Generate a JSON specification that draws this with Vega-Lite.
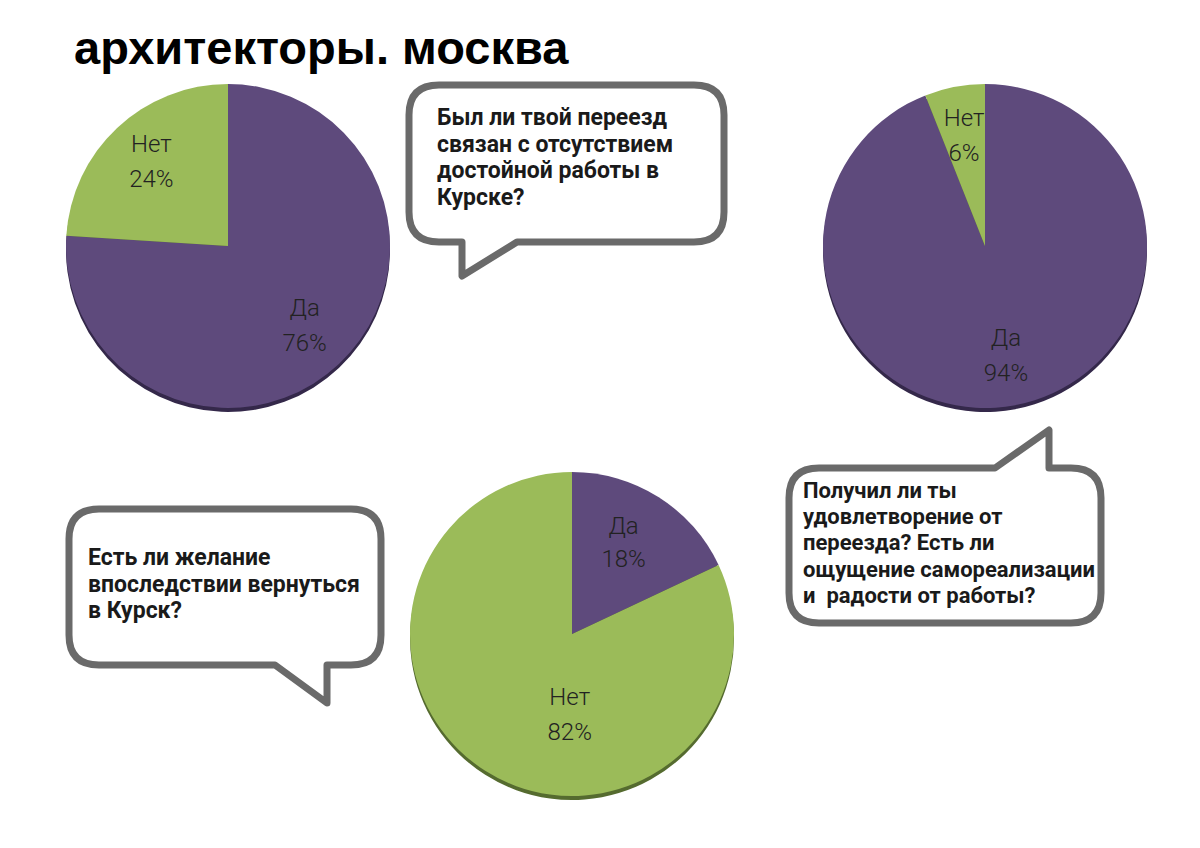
{
  "$schema": "https://vega.github.io/schema/vega-lite/v6.json",
  "width": 1200,
  "height": 848,
  "padding": 0,
  "autosize": {"type": "fit", "contains": "padding"},
  "background": "white",
  "config": {"view": {"stroke": null}},
  "datasets": {
    "pies": [
      {"q": "move", "answer": "Да", "share": 0.76},
      {"q": "move", "answer": "Нет", "share": 0.24},
      {"q": "satisfied", "answer": "Да", "share": 0.94},
      {"q": "satisfied", "answer": "Нет", "share": 0.06},
      {"q": "return", "answer": "Да", "share": 0.18},
      {"q": "return", "answer": "Нет", "share": 0.82}
    ],
    "questions": [
      {"q": "move", "text": "Был ли твой переезд\nсвязан с отсутствием\nдостойной работы в\nКурске?"},
      {"q": "satisfied", "text": "Получил ли ты\nудовлетворение от\nпереезда? Есть ли\nощущение самореализации\nи\u00a0 радости от работы?"},
      {"q": "return", "text": "Есть ли желание\nвпоследствии вернуться\nв Курск?"}
    ],
    "title": [{"title": "архитекторы. москва"}]
  },
  "layer": [
    {
      "data": {"name": "title"},
      "mark": {"type": "text", "align": "left", "baseline": "alphabetic", "font": "Liberation Sans", "fontWeight": "bold", "fontSize": 47, "fill": "#000000"},
      "encoding": {
        "x": {"datum": 74, "type": "quantitative", "scale": {"type": "linear", "domain": [0, 1200], "nice": false, "zero": false}, "axis": null},
        "y": {"datum": 64, "type": "quantitative", "scale": {"type": "linear", "domain": [0, 848], "nice": false, "zero": false, "reverse": true}, "axis": null},
        "text": {"field": "title"}
      }
    },
    {
      "data": {"name": "questions"},
      "transform": [{"filter": "datum.q === 'move'"}],
      "mark": {"type": "point", "shape": "M -127.5 -78.5 L 127.5 -78.5 Q 157.5 -78.5 157.5 -48.5 L 157.5 48.5 Q 157.5 78.5 127.5 78.5 L -49.5 78.5 L -104.5 112.5 L -104.5 78.5 L -127.5 78.5 Q -157.5 78.5 -157.5 48.5 L -157.5 -48.5 Q -157.5 -78.5 -127.5 -78.5 Z", "size": 4, "filled": true, "fill": "#ffffff", "stroke": "#6a6a6a", "strokeWidth": 7, "strokeJoin": "round", "opacity": 1, "fillOpacity": 1, "strokeOpacity": 1},
      "encoding": {
        "x": {"datum": 566.5, "type": "quantitative", "scale": {"type": "linear", "domain": [0, 1200], "nice": false, "zero": false}, "axis": null},
        "y": {"datum": 163.5, "type": "quantitative", "scale": {"type": "linear", "domain": [0, 848], "nice": false, "zero": false, "reverse": true}, "axis": null}
      }
    },
    {
      "data": {"name": "questions"},
      "transform": [{"filter": "datum.q === 'satisfied'"}],
      "mark": {"type": "point", "shape": "M -126 -77.5 L 50 -77.5 L 104 -115.5 L 104 -77.5 L 126 -77.5 Q 156 -77.5 156 -47.5 L 156 47.5 Q 156 77.5 126 77.5 L -126 77.5 Q -156 77.5 -156 47.5 L -156 -47.5 Q -156 -77.5 -126 -77.5 Z", "size": 4, "filled": true, "fill": "#ffffff", "stroke": "#6a6a6a", "strokeWidth": 7, "strokeJoin": "round", "opacity": 1, "fillOpacity": 1, "strokeOpacity": 1},
      "encoding": {
        "x": {"datum": 945, "type": "quantitative", "scale": {"type": "linear", "domain": [0, 1200], "nice": false, "zero": false}, "axis": null},
        "y": {"datum": 545.5, "type": "quantitative", "scale": {"type": "linear", "domain": [0, 848], "nice": false, "zero": false, "reverse": true}, "axis": null}
      }
    },
    {
      "data": {"name": "questions"},
      "transform": [{"filter": "datum.q === 'return'"}],
      "mark": {"type": "point", "shape": "M -126 -78 L 126 -78 Q 156 -78 156 -48 L 156 48 Q 156 78 126 78 L 102 78 L 102 116 L 50 78 L -126 78 Q -156 78 -156 48 L -156 -48 Q -156 -78 -126 -78 Z", "size": 4, "filled": true, "fill": "#ffffff", "stroke": "#6a6a6a", "strokeWidth": 7, "strokeJoin": "round", "opacity": 1, "fillOpacity": 1, "strokeOpacity": 1},
      "encoding": {
        "x": {"datum": 225, "type": "quantitative", "scale": {"type": "linear", "domain": [0, 1200], "nice": false, "zero": false}, "axis": null},
        "y": {"datum": 587, "type": "quantitative", "scale": {"type": "linear", "domain": [0, 848], "nice": false, "zero": false, "reverse": true}, "axis": null}
      }
    },
    {
      "data": {"name": "questions"},
      "transform": [{"filter": "datum.q === 'move'"}],
      "mark": {"type": "text", "align": "left", "baseline": "alphabetic", "lineBreak": "\n", "lineHeight": 26.5, "font": "Roboto", "fontWeight": "bold", "fontSize": 23, "fill": "#1a1a1a"},
      "encoding": {
        "x": {"datum": 437, "type": "quantitative", "scale": {"type": "linear", "domain": [0, 1200], "nice": false, "zero": false}, "axis": null},
        "y": {"datum": 125, "type": "quantitative", "scale": {"type": "linear", "domain": [0, 848], "nice": false, "zero": false, "reverse": true}, "axis": null},
        "text": {"field": "text"}
      }
    },
    {
      "data": {"name": "questions"},
      "transform": [{"filter": "datum.q === 'satisfied'"}],
      "mark": {"type": "text", "align": "left", "baseline": "alphabetic", "lineBreak": "\n", "lineHeight": 26.2, "font": "Roboto", "fontWeight": "bold", "fontSize": 22, "fill": "#1a1a1a"},
      "encoding": {
        "x": {"datum": 803, "type": "quantitative", "scale": {"type": "linear", "domain": [0, 1200], "nice": false, "zero": false}, "axis": null},
        "y": {"datum": 498, "type": "quantitative", "scale": {"type": "linear", "domain": [0, 848], "nice": false, "zero": false, "reverse": true}, "axis": null},
        "text": {"field": "text"}
      }
    },
    {
      "data": {"name": "questions"},
      "transform": [{"filter": "datum.q === 'return'"}],
      "mark": {"type": "text", "align": "left", "baseline": "alphabetic", "lineBreak": "\n", "lineHeight": 26.5, "font": "Roboto", "fontWeight": "bold", "fontSize": 23, "fill": "#1a1a1a"},
      "encoding": {
        "x": {"datum": 88, "type": "quantitative", "scale": {"type": "linear", "domain": [0, 1200], "nice": false, "zero": false}, "axis": null},
        "y": {"datum": 565, "type": "quantitative", "scale": {"type": "linear", "domain": [0, 848], "nice": false, "zero": false, "reverse": true}, "axis": null},
        "text": {"field": "text"}
      }
    },
    {
      "data": {"name": "pies"},
      "transform": [{"filter": "datum.q === 'move'"}],
      "mark": {"type": "arc", "outerRadius": 162},
      "encoding": {
        "x": {"datum": 228, "type": "quantitative", "scale": {"type": "linear", "domain": [0, 1200], "nice": false, "zero": false}, "axis": null},
        "y": {"datum": 250, "type": "quantitative", "scale": {"type": "linear", "domain": [0, 848], "nice": false, "zero": false, "reverse": true}, "axis": null},
        "theta": {"field": "share", "type": "quantitative", "stack": true},
        "order": {"field": "answer", "sort": "ascending"},
        "fill": {"field": "answer", "type": "nominal", "scale": {"domain": ["Да", "Нет"], "range": ["#34284a", "#556b2f"]}, "legend": null}
      }
    },
    {
      "data": {"name": "pies"},
      "transform": [{"filter": "datum.q === 'move'"}],
      "mark": {"type": "arc", "outerRadius": 162},
      "encoding": {
        "x": {"datum": 228, "type": "quantitative", "scale": {"type": "linear", "domain": [0, 1200], "nice": false, "zero": false}, "axis": null},
        "y": {"datum": 246, "type": "quantitative", "scale": {"type": "linear", "domain": [0, 848], "nice": false, "zero": false, "reverse": true}, "axis": null},
        "theta": {"field": "share", "type": "quantitative", "stack": true},
        "order": {"field": "answer", "sort": "ascending"},
        "color": {"field": "answer", "type": "nominal", "scale": {"domain": ["Да", "Нет"], "range": ["#5e4a7c", "#9bbb59"]}, "legend": null}
      }
    },
    {
      "data": {"name": "pies"},
      "transform": [{"filter": "datum.q === 'move'"}],
      "mark": {"type": "text", "radius": 112, "dy": -17, "font": "Roboto", "fontWeight": 300, "fontSize": 24, "fill": "#222222", "align": "center", "baseline": "middle"},
      "encoding": {
        "x": {"datum": 228, "type": "quantitative", "scale": {"type": "linear", "domain": [0, 1200], "nice": false, "zero": false}, "axis": null},
        "y": {"datum": 244, "type": "quantitative", "scale": {"type": "linear", "domain": [0, 848], "nice": false, "zero": false, "reverse": true}, "axis": null},
        "theta": {"field": "share", "type": "quantitative", "stack": true},
        "order": {"field": "answer", "sort": "ascending"},
        "text": {"field": "answer"}
      }
    },
    {
      "data": {"name": "pies"},
      "transform": [{"filter": "datum.q === 'move'"}],
      "mark": {"type": "text", "radius": 112, "dy": 18, "font": "Roboto", "fontWeight": 300, "fontSize": 24, "fill": "#222222", "align": "center", "baseline": "middle"},
      "encoding": {
        "x": {"datum": 228, "type": "quantitative", "scale": {"type": "linear", "domain": [0, 1200], "nice": false, "zero": false}, "axis": null},
        "y": {"datum": 244, "type": "quantitative", "scale": {"type": "linear", "domain": [0, 848], "nice": false, "zero": false, "reverse": true}, "axis": null},
        "theta": {"field": "share", "type": "quantitative", "stack": true},
        "order": {"field": "answer", "sort": "ascending"},
        "text": {"field": "share", "type": "quantitative", "format": ".0%"}
      }
    },
    {
      "data": {"name": "pies"},
      "transform": [{"filter": "datum.q === 'satisfied'"}],
      "mark": {"type": "arc", "outerRadius": 162},
      "encoding": {
        "x": {"datum": 985, "type": "quantitative", "scale": {"type": "linear", "domain": [0, 1200], "nice": false, "zero": false}, "axis": null},
        "y": {"datum": 250, "type": "quantitative", "scale": {"type": "linear", "domain": [0, 848], "nice": false, "zero": false, "reverse": true}, "axis": null},
        "theta": {"field": "share", "type": "quantitative", "stack": true},
        "order": {"field": "answer", "sort": "ascending"},
        "fill": {"field": "answer", "type": "nominal", "scale": {"domain": ["Да", "Нет"], "range": ["#34284a", "#556b2f"]}, "legend": null}
      }
    },
    {
      "data": {"name": "pies"},
      "transform": [{"filter": "datum.q === 'satisfied'"}],
      "mark": {"type": "arc", "outerRadius": 162},
      "encoding": {
        "x": {"datum": 985, "type": "quantitative", "scale": {"type": "linear", "domain": [0, 1200], "nice": false, "zero": false}, "axis": null},
        "y": {"datum": 246, "type": "quantitative", "scale": {"type": "linear", "domain": [0, 848], "nice": false, "zero": false, "reverse": true}, "axis": null},
        "theta": {"field": "share", "type": "quantitative", "stack": true},
        "order": {"field": "answer", "sort": "ascending"},
        "color": {"field": "answer", "type": "nominal", "scale": {"domain": ["Да", "Нет"], "range": ["#5e4a7c", "#9bbb59"]}, "legend": null}
      }
    },
    {
      "data": {"name": "pies"},
      "transform": [{"filter": "datum.q === 'satisfied'"}],
      "mark": {"type": "text", "radius": 112, "dy": -17, "font": "Roboto", "fontWeight": 300, "fontSize": 24, "fill": "#222222", "align": "center", "baseline": "middle"},
      "encoding": {
        "x": {"datum": 985, "type": "quantitative", "scale": {"type": "linear", "domain": [0, 1200], "nice": false, "zero": false}, "axis": null},
        "y": {"datum": 246, "type": "quantitative", "scale": {"type": "linear", "domain": [0, 848], "nice": false, "zero": false, "reverse": true}, "axis": null},
        "theta": {"field": "share", "type": "quantitative", "stack": true},
        "order": {"field": "answer", "sort": "ascending"},
        "text": {"field": "answer"}
      }
    },
    {
      "data": {"name": "pies"},
      "transform": [{"filter": "datum.q === 'satisfied'"}],
      "mark": {"type": "text", "radius": 112, "dy": 18, "font": "Roboto", "fontWeight": 300, "fontSize": 24, "fill": "#222222", "align": "center", "baseline": "middle"},
      "encoding": {
        "x": {"datum": 985, "type": "quantitative", "scale": {"type": "linear", "domain": [0, 1200], "nice": false, "zero": false}, "axis": null},
        "y": {"datum": 246, "type": "quantitative", "scale": {"type": "linear", "domain": [0, 848], "nice": false, "zero": false, "reverse": true}, "axis": null},
        "theta": {"field": "share", "type": "quantitative", "stack": true},
        "order": {"field": "answer", "sort": "ascending"},
        "text": {"field": "share", "type": "quantitative", "format": ".0%"}
      }
    },
    {
      "data": {"name": "pies"},
      "transform": [{"filter": "datum.q === 'return'"}],
      "mark": {"type": "arc", "outerRadius": 162},
      "encoding": {
        "x": {"datum": 572, "type": "quantitative", "scale": {"type": "linear", "domain": [0, 1200], "nice": false, "zero": false}, "axis": null},
        "y": {"datum": 638, "type": "quantitative", "scale": {"type": "linear", "domain": [0, 848], "nice": false, "zero": false, "reverse": true}, "axis": null},
        "theta": {"field": "share", "type": "quantitative", "stack": true},
        "order": {"field": "answer", "sort": "ascending"},
        "fill": {"field": "answer", "type": "nominal", "scale": {"domain": ["Да", "Нет"], "range": ["#34284a", "#556b2f"]}, "legend": null}
      }
    },
    {
      "data": {"name": "pies"},
      "transform": [{"filter": "datum.q === 'return'"}],
      "mark": {"type": "arc", "outerRadius": 162},
      "encoding": {
        "x": {"datum": 572, "type": "quantitative", "scale": {"type": "linear", "domain": [0, 1200], "nice": false, "zero": false}, "axis": null},
        "y": {"datum": 634, "type": "quantitative", "scale": {"type": "linear", "domain": [0, 848], "nice": false, "zero": false, "reverse": true}, "axis": null},
        "theta": {"field": "share", "type": "quantitative", "stack": true},
        "order": {"field": "answer", "sort": "ascending"},
        "color": {"field": "answer", "type": "nominal", "scale": {"domain": ["Да", "Нет"], "range": ["#5e4a7c", "#9bbb59"]}, "legend": null}
      }
    },
    {
      "data": {"name": "pies"},
      "transform": [{"filter": "datum.q === 'return' && datum.answer === 'Да'"}],
      "mark": {"type": "text", "radius": 100, "dy": -17, "font": "Roboto", "fontWeight": 300, "fontSize": 24, "fill": "#222222", "align": "center", "baseline": "middle"},
      "encoding": {
        "x": {"datum": 570, "type": "quantitative", "scale": {"type": "linear", "domain": [0, 1200], "nice": false, "zero": false}, "axis": null},
        "y": {"datum": 628, "type": "quantitative", "scale": {"type": "linear", "domain": [0, 848], "nice": false, "zero": false, "reverse": true}, "axis": null},
        "theta": {"field": "share", "type": "quantitative", "stack": true},
        "order": {"field": "answer", "sort": "ascending"},
        "text": {"field": "answer"}
      }
    },
    {
      "data": {"name": "pies"},
      "transform": [{"filter": "datum.q === 'return' && datum.answer === 'Да'"}],
      "mark": {"type": "text", "radius": 100, "dy": 16, "font": "Roboto", "fontWeight": 300, "fontSize": 24, "fill": "#222222", "align": "center", "baseline": "middle"},
      "encoding": {
        "x": {"datum": 570, "type": "quantitative", "scale": {"type": "linear", "domain": [0, 1200], "nice": false, "zero": false}, "axis": null},
        "y": {"datum": 628, "type": "quantitative", "scale": {"type": "linear", "domain": [0, 848], "nice": false, "zero": false, "reverse": true}, "axis": null},
        "theta": {"field": "share", "type": "quantitative", "stack": true},
        "order": {"field": "answer", "sort": "ascending"},
        "text": {"field": "share", "type": "quantitative", "format": ".0%"}
      }
    },
    {
      "data": {"name": "pies"},
      "transform": [{"filter": "datum.q === 'return' && datum.answer === 'Нет'"}],
      "mark": {"type": "text", "radius": 81, "theta": 3.17, "dy": -17, "font": "Roboto", "fontWeight": 300, "fontSize": 24, "fill": "#222222", "align": "center", "baseline": "middle"},
      "encoding": {
        "x": {"datum": 572, "type": "quantitative", "scale": {"type": "linear", "domain": [0, 1200], "nice": false, "zero": false}, "axis": null},
        "y": {"datum": 634, "type": "quantitative", "scale": {"type": "linear", "domain": [0, 848], "nice": false, "zero": false, "reverse": true}, "axis": null},
        "text": {"field": "answer"}
      }
    },
    {
      "data": {"name": "pies"},
      "transform": [{"filter": "datum.q === 'return' && datum.answer === 'Нет'"}],
      "mark": {"type": "text", "radius": 81, "theta": 3.17, "dy": 18, "font": "Roboto", "fontWeight": 300, "fontSize": 24, "fill": "#222222", "align": "center", "baseline": "middle"},
      "encoding": {
        "x": {"datum": 572, "type": "quantitative", "scale": {"type": "linear", "domain": [0, 1200], "nice": false, "zero": false}, "axis": null},
        "y": {"datum": 634, "type": "quantitative", "scale": {"type": "linear", "domain": [0, 848], "nice": false, "zero": false, "reverse": true}, "axis": null},
        "text": {"field": "share", "type": "quantitative", "format": ".0%"}
      }
    }
  ]
}
